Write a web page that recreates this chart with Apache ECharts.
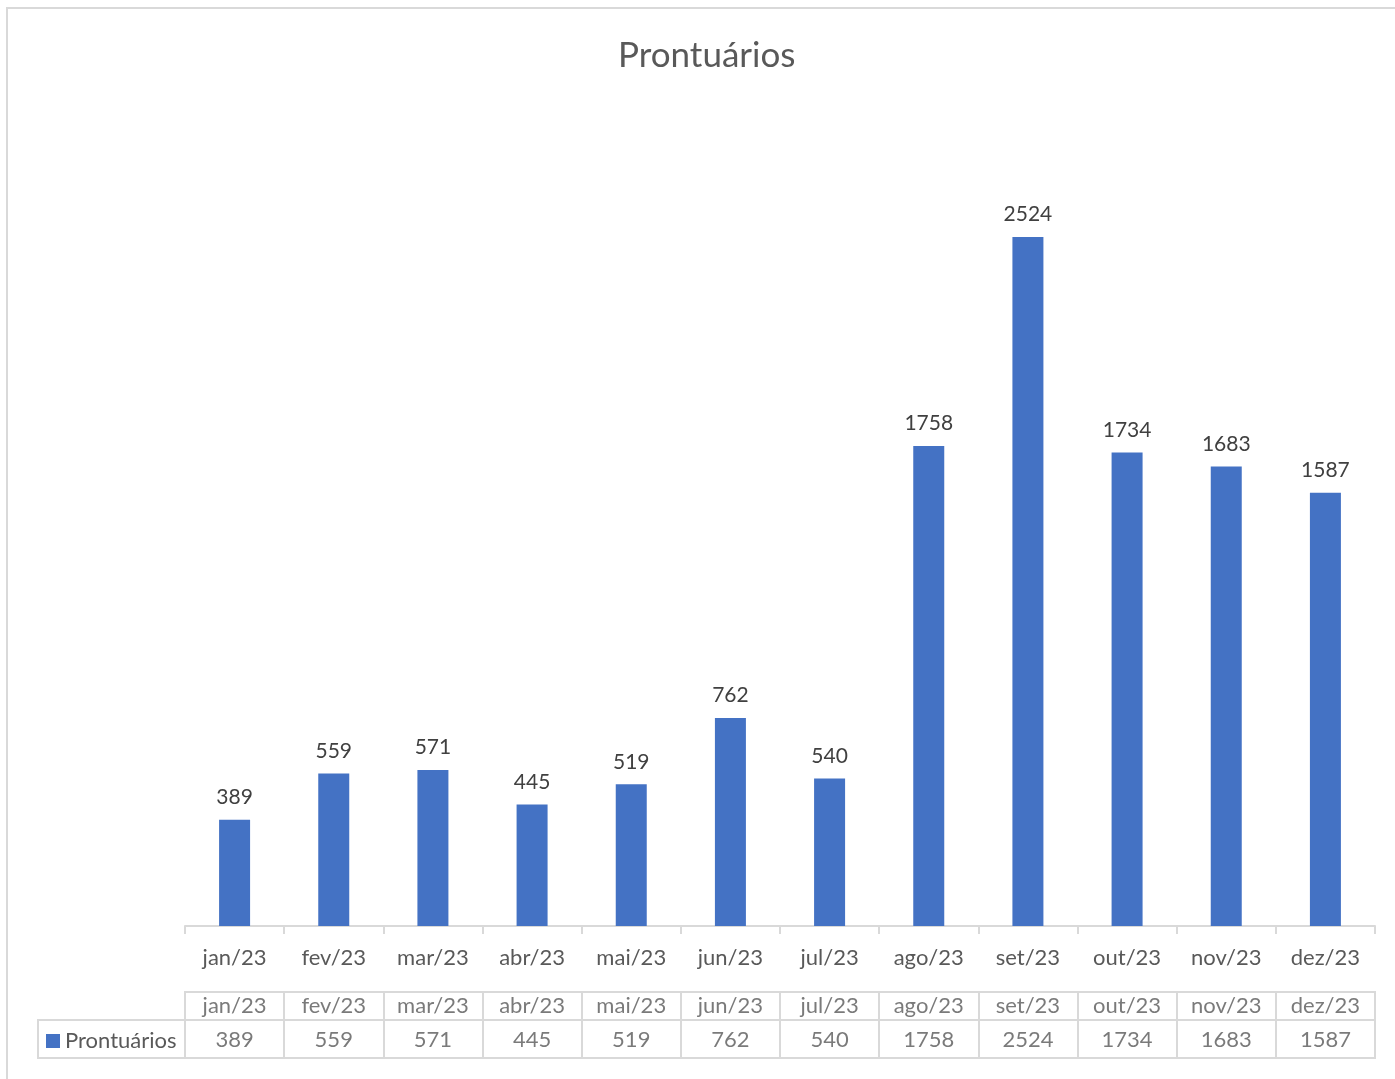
<!DOCTYPE html>
<html>
<head>
<meta charset="utf-8">
<script src="https://cdn.jsdelivr.net/npm/echarts@6/dist/echarts.min.js"></script>
<style>
html,body{margin:0;padding:0;background:#fff;}
#chart{width:1395px;height:1079px;}
</style>
</head>
<body>
<div id="chart"></div>
<script>
const months = ['jan/23','fev/23','mar/23','abr/23','mai/23','jun/23','jul/23','ago/23','set/23','out/23','nov/23','dez/23'];
const prontuarios = [389,559,571,445,519,762,540,1758,2524,1734,1683,1587];
const seriesName = 'Prontuários';
const chartTitle = 'Prontuários';

const FONT = 'Lato, "Liberation Sans", sans-serif';
const LINE = '#d9d9d9';
const TXT = '#595959';
const BAR = '#4472C4';

const chart = echarts.init(document.getElementById('chart'), null, {renderer:'canvas'});

const tableXAxis = (gi) => ({
  type:'category', gridIndex:gi, data:months, boundaryGap:true,
  axisLine:{show:false}, axisTick:{show:false}, axisLabel:{show:false},
  splitLine:{show:true, lineStyle:{color:LINE, width:2}}
});
const tableYAxis = (gi) => ({
  type:'category', gridIndex:gi, data:['r'], show:false
});

const option = {
  animation:false,
  backgroundColor:'#fff',
  textStyle:{fontFamily:FONT},
  title:{
    text:chartTitle, left:613, top:33,
    textStyle:{fontFamily:FONT, fontSize:35, fontWeight:'normal', color:TXT}
  },
  legend:{
    data:[seriesName], left:41, top:1025, icon:'rect', itemWidth:14, itemHeight:14, itemGap:6,
    textStyle:{fontFamily:FONT, fontSize:22, color:TXT}, selectedMode:false
  },
  graphic:[
    {type:'rect', shape:{x:7, y:8, width:1400, height:1100}, style:{fill:null, stroke:LINE, lineWidth:2}, silent:true},
    {type:'rect', shape:{x:38, y:1020, width:147, height:38}, style:{fill:null, stroke:LINE, lineWidth:2}, silent:true}
  ],
  grid:[
    {left:185, right:20, top:107, bottom:153},
    {left:185, right:20, top:992, height:28, show:true, borderColor:LINE, borderWidth:2},
    {left:185, right:20, top:1020, height:38, show:true, borderColor:LINE, borderWidth:2}
  ],
  xAxis:[
    {
      type:'category', gridIndex:0, data:months, boundaryGap:true,
      axisLine:{show:true, lineStyle:{color:LINE, width:2}},
      axisTick:{show:true, length:8, lineStyle:{color:LINE, width:2}},
      axisLabel:{margin:21, fontFamily:FONT, fontSize:22, color:TXT, interval:0},
      splitLine:{show:false}
    },
    tableXAxis(1),
    tableXAxis(2)
  ],
  yAxis:[
    {type:'value', gridIndex:0, min:0, max:3000, show:false, splitLine:{show:false}},
    tableYAxis(1),
    tableYAxis(2)
  ],
  series:[
    {
      name:seriesName, type:'bar', xAxisIndex:0, yAxisIndex:0,
      data:prontuarios, barWidth:31,
      itemStyle:{color:BAR},
      label:{show:true, position:'top', distance:12, fontFamily:FONT, fontSize:21, color:'#404040'}
    },
    {
      type:'scatter', xAxisIndex:1, yAxisIndex:1, symbolSize:0, silent:true,
      data:months.map(m => [m,'r']),
      label:{show:true, position:'inside', formatter:p => p.value[0], fontFamily:FONT, fontSize:22, color:TXT}
    },
    {
      type:'scatter', xAxisIndex:2, yAxisIndex:2, symbolSize:0, silent:true,
      data:months.map((m,i) => [m,'r',prontuarios[i]]),
      label:{show:true, position:'inside', formatter:p => String(p.value[2]), fontFamily:FONT, fontSize:22, color:TXT, offset:[0,1]}
    }
  ]
};
chart.setOption(option);
</script>
</body>
</html>
